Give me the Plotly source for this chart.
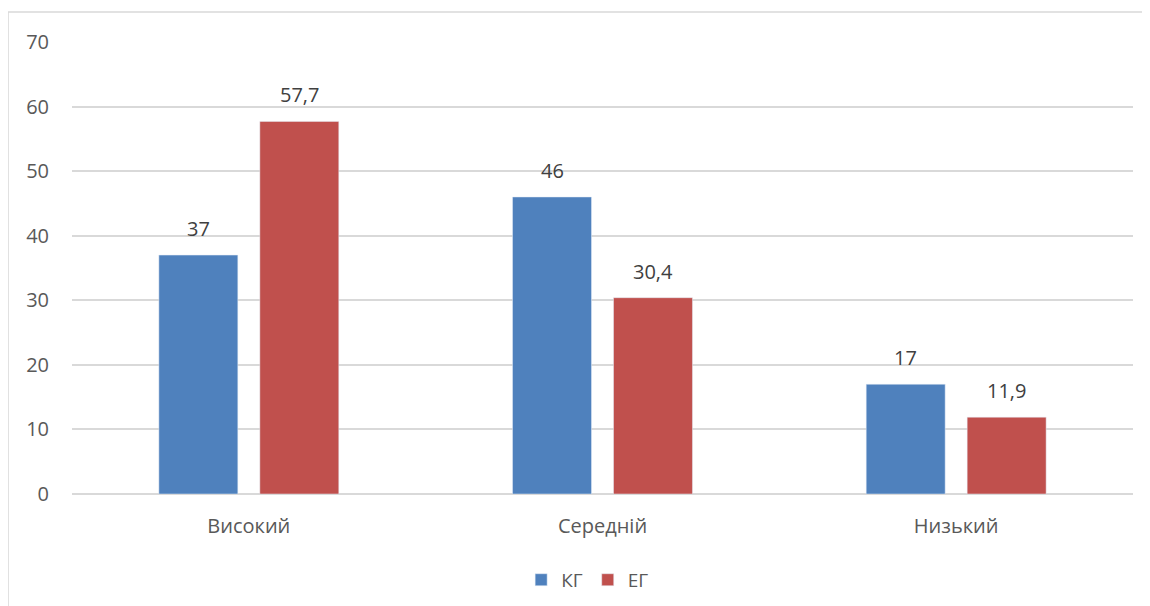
import plotly.graph_objects as go

categories = ["Високий", "Середній", "Низький"]
kg_values = [37, 46, 17]
eg_values = [57.7, 30.4, 11.9]
y_ticks = [0, 10, 20, 30, 40, 50, 60, 70]

BARGAP = 0.429
BARGROUPGAP = 0.218

def fmt(v):
    return str(v).replace(".", ",")

fig = go.Figure()
fig.add_trace(go.Bar(name="КГ", x=categories, y=kg_values,
                     marker=dict(color="#4F81BD")))
fig.add_trace(go.Bar(name="ЕГ", x=categories, y=eg_values,
                     marker=dict(color="#C0504D")))

# data labels above bars
slot = (1 - BARGAP) / 2
annotations = []
for vals, side in ((kg_values, -1), (eg_values, 1)):
    for i, v in enumerate(vals):
        annotations.append(dict(x=i + side * slot / 2, y=v, xref="x", yref="y",
                                text=fmt(v), showarrow=False, yanchor="bottom",
                                yshift=11, font=dict(size=20, color="#404040")))

fig.update_layout(
    width=1150, height=606,
    margin=dict(l=64, r=25, t=34, b=120),
    paper_bgcolor="white", plot_bgcolor="white",
    font=dict(family="Open Sans", size=20, color="#595959"),
    barmode="group", bargap=BARGAP, bargroupgap=BARGROUPGAP,
    showlegend=True,
    legend=dict(orientation="h", x=0.486, xanchor="center", y=-0.19, yanchor="middle",
                font=dict(size=19, color="#595959"), itemwidth=30),
    xaxis=dict(showgrid=False, showline=False, ticks="", tickfont=dict(size=20),
               ticklabelstandoff=18, range=[-0.5, 2.5]),
    yaxis=dict(range=[0, 70], tickvals=y_ticks, showgrid=True, gridcolor="#D9D9D9",
               gridwidth=1.5, zeroline=True, zerolinecolor="#D9D9D9", zerolinewidth=1.5,
               showline=False, ticks="", ticklabelstandoff=22, tickfont=dict(size=20)),
    shapes=[dict(type="rect", xref="paper", yref="paper",
                 x0=-0.0603, x1=1.03, y0=-0.30, y1=1.0664,
                 line=dict(color="#D9D9D9", width=1.5), layer="below")],
    annotations=annotations,
)

fig.write_html("out.html")
